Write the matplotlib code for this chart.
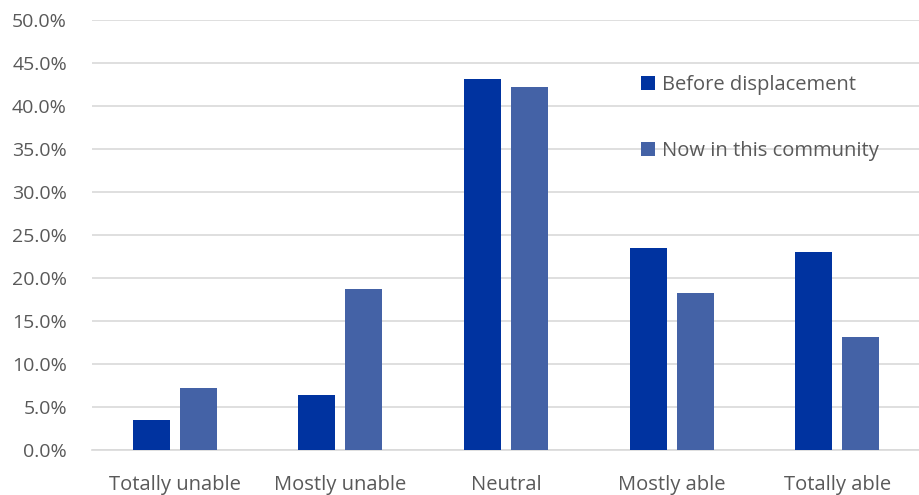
import matplotlib
matplotlib.use("Agg")
import matplotlib.pyplot as plt
import numpy as np
from matplotlib.ticker import FuncFormatter, MultipleLocator

categories = ["Totally unable", "Mostly unable", "Neutral", "Mostly able", "Totally able"]
before_displacement = [3.5, 6.4, 43.2, 23.5, 23.0]
now_in_community = [7.2, 18.8, 42.2, 18.3, 13.2]
series_labels = ["Before displacement", "Now in this community"]

plt.rcParams["font.family"] = ["Open Sans", "DejaVu Sans"]
text_color = "#595959"
grid_color = "#D9D9D9"
c_before = "#0033A0"
c_now = "#4462A6"

W, H = 920, 495
fig = plt.figure(figsize=(W / 100, H / 100), dpi=100)
ax = fig.add_axes([92 / W, 1 - 450.3 / H, (W - 92) / W, (450.3 - 20) / H])

x = np.arange(len(categories))
bw = 0.223
off = 0.142
ax.bar(x - off, before_displacement, bw, color=c_before, label=series_labels[0], zorder=3)
ax.bar(x + off, now_in_community, bw, color=c_now, label=series_labels[1], zorder=3)

ax.set_xlim(-0.5, len(categories) - 0.5)
ax.set_ylim(0, 50)
ax.yaxis.set_major_locator(MultipleLocator(5))
ax.yaxis.set_major_formatter(FuncFormatter(lambda v, p: f"{v:.1f}%"))
ax.grid(axis="y", color=grid_color, linewidth=1.2, zorder=0)
ax.set_axisbelow(True)
for s in ["top", "right", "left"]:
    ax.spines[s].set_visible(False)
ax.spines["bottom"].set_color(grid_color)
ax.spines["bottom"].set_linewidth(1.2)
ax.tick_params(axis="both", length=0, colors=text_color)
ax.tick_params(axis="y", pad=18, labelsize=14)
ax.tick_params(axis="x", pad=18, labelsize=14.5)
ax.set_xticks(x)
ax.set_xticklabels(categories)

leg = ax.legend(loc="upper left", bbox_to_anchor=(641 / W, 1 - 75 / H),
                bbox_transform=fig.transFigure, frameon=False,
                fontsize=14.5, labelcolor=text_color, handlelength=0.7,
                handleheight=0.7, handletextpad=0.35, labelspacing=2.3,
                borderaxespad=0, borderpad=0)

fig.savefig("out.png", dpi=100)
